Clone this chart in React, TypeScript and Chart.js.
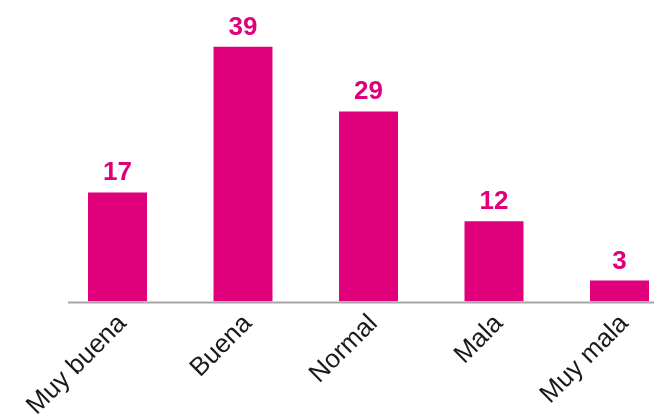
import React, { useEffect, useRef } from "react";
import { Chart, registerables } from "chart.js";

Chart.register(...registerables);

const categories = ["Muy buena", "Buena", "Normal", "Mala", "Muy mala"];
const values = [16.7, 39.0, 29.1, 12.3, 3.2];
const valueLabels = ["17", "39", "29", "12", "3"];

const BAR_COLOR = "#E0007B";
const CANVAS_LEFT = -100;
const CANVAS_W = 800;
const CANVAS_H = 414;

const valueLabelPlugin = {
  id: "valueLabels",
  afterDatasetsDraw(chart: any) {
    const ctx = chart.ctx;
    const meta = chart.getDatasetMeta(0);
    ctx.save();
    ctx.fillStyle = BAR_COLOR;
    ctx.font = "bold 26px 'Liberation Sans', Arial, sans-serif";
    ctx.textAlign = "center";
    ctx.textBaseline = "alphabetic";
    meta.data.forEach((bar: any, i: number) => {
      ctx.fillText(valueLabels[i], bar.x, bar.y - 12);
    });
    ctx.restore();
  },
};

const baselinePlugin = {
  id: "baseline",
  afterDatasetsDraw(chart: any) {
    const ctx = chart.ctx;
    const y0 = chart.scales.y.getPixelForValue(0);
    const meta = chart.getDatasetMeta(0);
    const first = meta.data[0];
    const startX = first.x - first.width / 2 - 20;
    ctx.save();
    ctx.strokeStyle = "#A6A6A6";
    ctx.lineWidth = 2;
    ctx.beginPath();
    ctx.moveTo(startX, y0 + 1);
    ctx.lineTo(chart.width, y0 + 1);
    ctx.stroke();
    ctx.restore();
  },
};

export default function App() {
  const ref = useRef<HTMLCanvasElement | null>(null);
  useEffect(() => {
    if (!ref.current) return;
    const chart = new Chart(ref.current, {
      type: "bar",
      data: {
        labels: categories,
        datasets: [
          {
            data: values,
            backgroundColor: BAR_COLOR,
            borderWidth: 0,
            categoryPercentage: 1,
            barPercentage: 0.47,
          },
        ],
      },
      options: {
        responsive: false,
        animation: false,
        layout: { padding: { left: 154.75, right: 17.75, top: 7.6, bottom: 0 } },
        plugins: { legend: { display: false }, tooltip: { enabled: false } },
        scales: {
          x: {
            grid: { display: false },
            border: { display: false },
            ticks: {
              color: "#1a1a1a",
              font: { family: "'Liberation Sans', Arial, sans-serif", size: 26 },
              minRotation: 45,
              maxRotation: 45,
              padding: -1,
              labelOffset: 5,
            },
            afterFit: (scale: any) => {
              scale.height = 112.5;
            },
          },
          y: {
            display: false,
            min: 0,
            max: 45,
          },
        },
      },
      plugins: [valueLabelPlugin, baselinePlugin],
    });
    return () => chart.destroy();
  }, []);
  return (
    <div style={{ position: "fixed", left: 0, top: 0, width: 654, height: 414, overflow: "hidden", background: "#fff" }}>
      <canvas
        ref={ref}
        width={CANVAS_W}
        height={CANVAS_H}
        style={{ position: "absolute", left: CANVAS_LEFT, top: 0, width: CANVAS_W, height: CANVAS_H }}
      />
    </div>
  );
}
